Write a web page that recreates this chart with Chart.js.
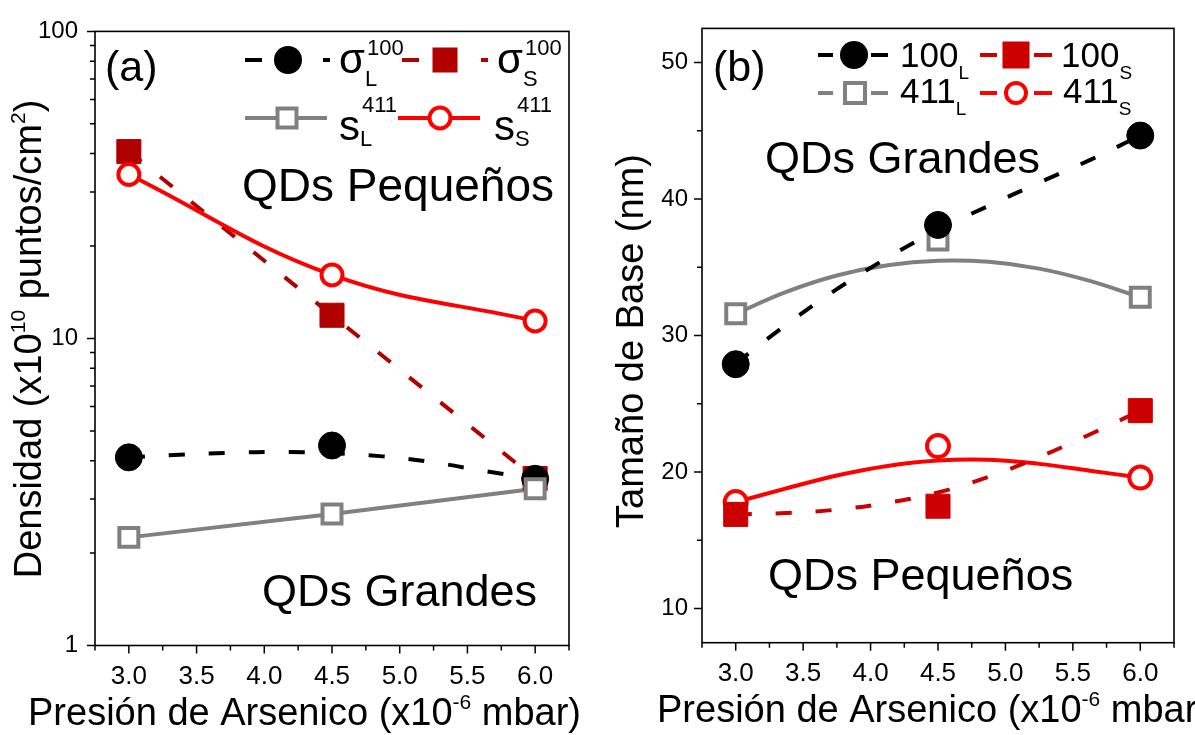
<!DOCTYPE html>
<html>
<head>
<meta charset="utf-8">
<script src="https://cdn.jsdelivr.net/npm/chart.js@4.4.1/dist/chart.umd.min.js"></script>
<style>
  html, body { margin: 0; padding: 0; background: #fff; }
  #wrap { position: relative; width: 1195px; height: 735px; overflow: hidden; background: #fff; }
  canvas { position: absolute; top: 0; }
  #chartA { left: 0; }
  #chartB { left: 600px; }
</style>
</head>
<body>
<div id="wrap">
  <canvas id="chartA" width="600" height="735"></canvas>
  <canvas id="chartB" width="595" height="735"></canvas>
</div>
<script>
// arsenic pressure (x10^-6 mbar)
const pressure = [3.0, 4.5, 6.0];
const xTicks = [3.0, 3.5, 4.0, 4.5, 5.0, 5.5, 6.0];
const xMinorTicks = [2.75, 3.25, 3.75, 4.25, 4.75, 5.25, 5.75, 6.25];

// (a) density (x10^10 puntos/cm2)
const sigmaL100 = [4.10, 4.48, 3.49];
const sigmaS100 = [40.6, 11.9, 3.5];
const sL411 = [2.25, 2.68, 3.24];
const sS411 = [34.2, 16.1, 11.4];
const densityTicks = [1, 10, 100];
const densityMinor = [2, 3, 4, 5, 6, 7, 8, 9, 20, 30, 40, 50, 60, 70, 80, 90];

// trend curves at these pressures
const fitX = [3.0, 3.375, 3.75, 4.125, 4.5, 4.875, 5.25, 5.625, 6.0];
const sigmaL100Fit = [4.10, 4.18, 4.24, 4.27, 4.23, 4.13, 3.95, 3.70, 3.49];

// (b) base size (nm)
const base100L = [27.9, 38.1, 44.65];
const base100S = [16.9, 17.5, 24.5];
const base411L = [31.6, 37.0, 32.8];
const base411S = [17.8, 21.9, 19.6];
const base100LFit = [27.95, 30.8, 33.4, 35.7, 37.75, 39.5, 41.2, 42.85, 44.65];
const base100SFit = [16.9, 17.0, 17.25, 17.75, 18.5, 19.65, 21.1, 22.75, 24.5];
const base411LFit = [31.6, 33.2, 34.4, 35.15, 35.48, 35.4, 34.9, 34.0, 32.8];
const base411SFit = [17.8, 18.8, 19.75, 20.45, 20.85, 20.9, 20.6, 20.1, 19.6];
const sizeTicks = [10, 20, 30, 40, 50];
const sizeMinor = [15, 25, 35, 45];

const FONT = "'Liberation Sans', Arial, sans-serif";
const BLACK = '#000000', DARKRED = '#B00000', RED2 = '#CC0000', RED = '#FF0000', GRAY = '#808080';
const DASH = [16, 24];

Chart.defaults.font.family = FONT;
Chart.defaults.color = '#000';

function pts(xs, ys) {
  return xs.map((x, i) => ({ x: x, y: ys[i] }));
}

function lineSet(xs, ys, color, dashed, curved, order) {
  return {
    data: pts(xs, ys),
    borderColor: color,
    borderWidth: 4,
    borderDash: dashed ? DASH : [],
    pointRadius: 0,
    tension: curved ? 0.4 : 0,
    fill: false,
    order: order
  };
}

function markerSet(ys, style, color, filled, radius, order) {
  return {
    data: pts(pressure, ys),
    showLine: false,
    pointStyle: style,
    pointRadius: radius,
    pointBorderWidth: filled ? 1 : 4,
    pointBorderColor: color,
    pointBackgroundColor: filled ? color : '#ffffff',
    order: order
  };
}

// ---- drawing helpers for the decorations ----
function setFont(ctx, size) {
  ctx.font = size + 'px ' + FONT;
}

function drawRich(ctx, parts, x, y) {
  let cx = x;
  parts.forEach(function(p) {
    setFont(ctx, p.size);
    ctx.fillText(p.t, cx, y + (p.dy || 0));
    cx += ctx.measureText(p.t).width;
  });
  return cx - x;
}

function richWidth(ctx, parts) {
  let w = 0;
  parts.forEach(function(p) {
    setFont(ctx, p.size);
    w += ctx.measureText(p.t).width;
  });
  return w;
}

function drawMarker(ctx, kind, x, y, size, color) {
  ctx.save();
  ctx.setLineDash([]);
  if (kind === 'circle') {
    ctx.fillStyle = color;
    ctx.beginPath();
    ctx.arc(x, y, size / 2, 0, Math.PI * 2);
    ctx.fill();
  } else if (kind === 'square') {
    ctx.fillStyle = color;
    ctx.fillRect(x - size / 2, y - size / 2, size, size);
  } else if (kind === 'osquare') {
    ctx.fillStyle = '#fff';
    ctx.strokeStyle = color;
    ctx.lineWidth = 4;
    ctx.fillRect(x - size / 2 + 2, y - size / 2 + 2, size - 4, size - 4);
    ctx.strokeRect(x - size / 2 + 2, y - size / 2 + 2, size - 4, size - 4);
  } else {
    ctx.fillStyle = '#fff';
    ctx.strokeStyle = color;
    ctx.lineWidth = 4;
    ctx.beginPath();
    ctx.arc(x, y, size / 2 - 2, 0, Math.PI * 2);
    ctx.fill();
    ctx.stroke();
  }
  ctx.restore();
}

function drawLegendItem(ctx, it) {
  ctx.save();
  ctx.strokeStyle = it.color;
  ctx.lineWidth = 4;
  it.segs.forEach(function(s) {
    ctx.beginPath();
    ctx.moveTo(s[0], it.y);
    ctx.lineTo(s[1], it.y);
    ctx.stroke();
  });
  drawMarker(ctx, it.marker, it.mx, it.y, it.msize, it.color);
  ctx.fillStyle = '#000';
  ctx.textBaseline = 'alphabetic';
  setFont(ctx, it.size);
  ctx.fillText(it.main, it.tx, it.base);
  const w = ctx.measureText(it.main).width;
  setFont(ctx, it.small);
  if (it.sub) ctx.fillText(it.sub, it.tx + w, it.subBase);
  if (it.sup) ctx.fillText(it.sup, it.tx + w + 2, it.supBase);
  ctx.restore();
}

function makeDecor(cfg) {
  return {
    id: 'decor',
    afterDraw: function(chart) {
      const ctx = chart.ctx;
      const a = chart.chartArea;
      const xs = chart.scales.x, ys = chart.scales.y;
      ctx.save();
      // frame
      ctx.strokeStyle = '#000';
      ctx.lineWidth = 1.6;
      ctx.strokeRect(a.left, a.top, a.right - a.left, a.bottom - a.top);
      // tick marks, pointing outwards
      ctx.lineWidth = 1.5;
      ctx.beginPath();
      xTicks.forEach(function(v) {
        const px = xs.getPixelForValue(v);
        ctx.moveTo(px, a.bottom); ctx.lineTo(px, a.bottom + 8);
      });
      xMinorTicks.forEach(function(v) {
        const px = xs.getPixelForValue(v);
        ctx.moveTo(px, a.bottom); ctx.lineTo(px, a.bottom + 5);
      });
      cfg.yMajor.forEach(function(v) {
        const py = ys.getPixelForValue(v);
        ctx.moveTo(a.left, py); ctx.lineTo(a.left - 8, py);
      });
      cfg.yMinor.forEach(function(v) {
        const py = ys.getPixelForValue(v);
        ctx.moveTo(a.left, py); ctx.lineTo(a.left - 5, py);
      });
      ctx.stroke();

      ctx.fillStyle = '#000';
      ctx.textBaseline = 'alphabetic';
      ctx.textAlign = 'left';
      cfg.texts.forEach(function(t) {
        setFont(ctx, t.size);
        ctx.fillText(t.t, t.x, t.y);
      });
      // x title
      drawRich(ctx, cfg.xTitle.parts, cfg.xTitle.x, cfg.xTitle.y);
      // y title (rotated)
      ctx.save();
      ctx.translate(cfg.yTitle.x, cfg.yTitle.cy);
      ctx.rotate(-Math.PI / 2);
      const w = richWidth(ctx, cfg.yTitle.parts);
      drawRich(ctx, cfg.yTitle.parts, -w / 2, 0);
      ctx.restore();
      // legend
      cfg.legend.forEach(function(it) { drawLegendItem(ctx, it); });
      ctx.restore();
    }
  };
}

function xScale(height) {
  return {
    type: 'linear', min: 2.75, max: 6.25,
    grid: { display: false, drawTicks: false },
    border: { display: false },
    afterBuildTicks: function(s) { s.ticks = xTicks.map(function(v) { return { value: v }; }); },
    afterFit: function(s) { s.height = height; },
    ticks: {
      font: { size: 26 }, color: '#000', padding: 16,
      maxRotation: 0, minRotation: 0, autoSkip: false,
      callback: function(v) { return Number(v).toFixed(1); }
    }
  };
}

const xTitleParts = [
  { t: 'Presión de Arsenico (x10', size: 38 },
  { t: '-6', size: 21, dy: -16 },
  { t: ' mbar)', size: 38 }
];

// ---------------- panel (a) ----------------
const chartA = new Chart(document.getElementById('chartA'), {
  type: 'line',
  data: {
    datasets: [
      lineSet(fitX, sigmaL100Fit, BLACK, true, true, 18),
      lineSet(pressure, sigmaS100, DARKRED, true, false, 17),
      lineSet(pressure, sL411, GRAY, false, false, 16),
      lineSet(pressure, sS411, RED, false, true, 15),
      markerSet(sigmaS100, 'rect', DARKRED, true, 17, 4),
      markerSet(sigmaL100, 'circle', BLACK, true, 13.5, 3),
      markerSet(sL411, 'rect', GRAY, false, 13.4, 2),
      markerSet(sS411, 'circle', RED, false, 10.5, 1)
    ]
  },
  options: {
    responsive: false,
    animation: false,
    events: [],
    layout: { padding: { left: 0, top: 21, right: 31, bottom: 0 } },
    plugins: { legend: { display: false }, tooltip: { enabled: false } },
    scales: {
      x: xScale(735 - 645.5),
      y: {
        type: 'logarithmic', min: 1, max: 100,
        grid: { display: false, drawTicks: false },
        border: { display: false },
        afterBuildTicks: function(s) { s.ticks = densityTicks.map(function(v) { return { value: v }; }); },
        afterFit: function(s) { s.width = 95; },
        ticks: { font: { size: 24 }, color: '#000', padding: 17, callback: function(v) { return String(v); } }
      }
    }
  },
  plugins: [makeDecor({
    yMajor: densityTicks,
    yMinor: densityMinor,
    texts: [
      { t: '(a)', x: 105, y: 81, size: 43 },
      { t: 'QDs Pequeños', x: 242, y: 201, size: 46 },
      { t: 'QDs Grandes', x: 262, y: 606, size: 45 }
    ],
    xTitle: { x: 28, y: 725, parts: xTitleParts },
    yTitle: {
      x: 41, cy: 339,
      parts: [
        { t: 'Densidad (x10', size: 38 },
        { t: '10', size: 21, dy: -16 },
        { t: ' puntos/cm', size: 38 },
        { t: '2', size: 21, dy: -16 },
        { t: ')', size: 38 }
      ]
    },
    legend: [
      { y: 60, color: BLACK, segs: [[245, 262], [323, 330]], marker: 'circle', mx: 288, msize: 28,
        tx: 339, base: 73, size: 42, main: 'σ', small: 22, sub: 'L', subBase: 86, sup: '100', supBase: 55 },
      { y: 60, color: DARKRED, segs: [[402, 419], [481, 488]], marker: 'square', mx: 445, msize: 25,
        tx: 497, base: 73, size: 42, main: 'σ', small: 22, sub: 'S', subBase: 86, sup: '100', supBase: 55 },
      { y: 118, color: GRAY, segs: [[245, 327]], marker: 'osquare', mx: 287, msize: 23,
        tx: 339, base: 140, size: 42, main: 's', small: 22, sub: 'L', subBase: 146, sup: '411', supBase: 112 },
      { y: 118, color: RED, segs: [[398, 480]], marker: 'ocircle', mx: 440, msize: 25,
        tx: 494, base: 140, size: 42, main: 's', small: 22, sub: 'S', subBase: 146, sup: '411', supBase: 112 }
    ]
  })]
});

// ---------------- panel (b) ----------------
const OX = 600; // canvas offset of panel (b)
const chartB = new Chart(document.getElementById('chartB'), {
  type: 'line',
  data: {
    datasets: [
      lineSet(fitX, base411LFit, GRAY, false, true, 18),
      lineSet(fitX, base411SFit, RED, false, true, 17),
      lineSet(fitX, base100LFit, BLACK, true, true, 16),
      lineSet(fitX, base100SFit, RED2, true, true, 15),
      markerSet(base411L, 'rect', GRAY, false, 13.4, 4),
      markerSet(base411S, 'circle', RED, false, 11, 3),
      markerSet(base100L, 'circle', BLACK, true, 13.5, 2),
      markerSet(base100S, 'rect', RED2, true, 17, 1)
    ]
  },
  options: {
    responsive: false,
    animation: false,
    events: [],
    layout: { padding: { left: 0, top: 21.7, right: 21, bottom: 0 } },
    plugins: { legend: { display: false }, tooltip: { enabled: false } },
    scales: {
      x: xScale(735 - 642.7),
      y: {
        type: 'linear', min: 7.5, max: 52.5,
        grid: { display: false, drawTicks: false },
        border: { display: false },
        afterBuildTicks: function(s) { s.ticks = sizeTicks.map(function(v) { return { value: v }; }); },
        afterFit: function(s) { s.width = 102; },
        ticks: { font: { size: 24 }, color: '#000', padding: 14, callback: function(v) { return String(v); } }
      }
    }
  },
  plugins: [makeDecor({
    yMajor: sizeTicks,
    yMinor: sizeMinor,
    texts: [
      { t: '(b)', x: 713 - OX, y: 81, size: 43 },
      { t: 'QDs Grandes', x: 765 - OX, y: 173, size: 45 },
      { t: 'QDs Pequeños', x: 768 - OX, y: 590, size: 45 }
    ],
    xTitle: { x: 657 - OX, y: 722, parts: xTitleParts },
    yTitle: { x: 643 - OX, cy: 341, parts: [{ t: 'Tamaño de Base (nm)', size: 38 }] },
    legend: [
      { y: 55, color: BLACK, segs: [[818 - OX, 833 - OX], [871 - OX, 888 - OX]], marker: 'circle', mx: 854 - OX, msize: 28,
        tx: 900 - OX, base: 67, size: 35, main: '100', small: 19, sub: 'L', subBase: 79 },
      { y: 55, color: RED2, segs: [[980 - OX, 997 - OX], [1034 - OX, 1052 - OX]], marker: 'square', mx: 1016 - OX, msize: 27,
        tx: 1061 - OX, base: 67, size: 35, main: '100', small: 19, sub: 'S', subBase: 79 },
      { y: 93, color: GRAY, segs: [[818 - OX, 833 - OX], [871 - OX, 888 - OX]], marker: 'osquare', mx: 855 - OX, msize: 24,
        tx: 900 - OX, base: 103, size: 35, main: '411', small: 19, sub: 'L', subBase: 115 },
      { y: 93, color: RED, segs: [[980 - OX, 997 - OX], [1034 - OX, 1052 - OX]], marker: 'ocircle', mx: 1016 - OX, msize: 24,
        tx: 1063 - OX, base: 103, size: 35, main: '411', small: 19, sub: 'S', subBase: 115 }
    ]
  })]
});
</script>
</body>
</html>
